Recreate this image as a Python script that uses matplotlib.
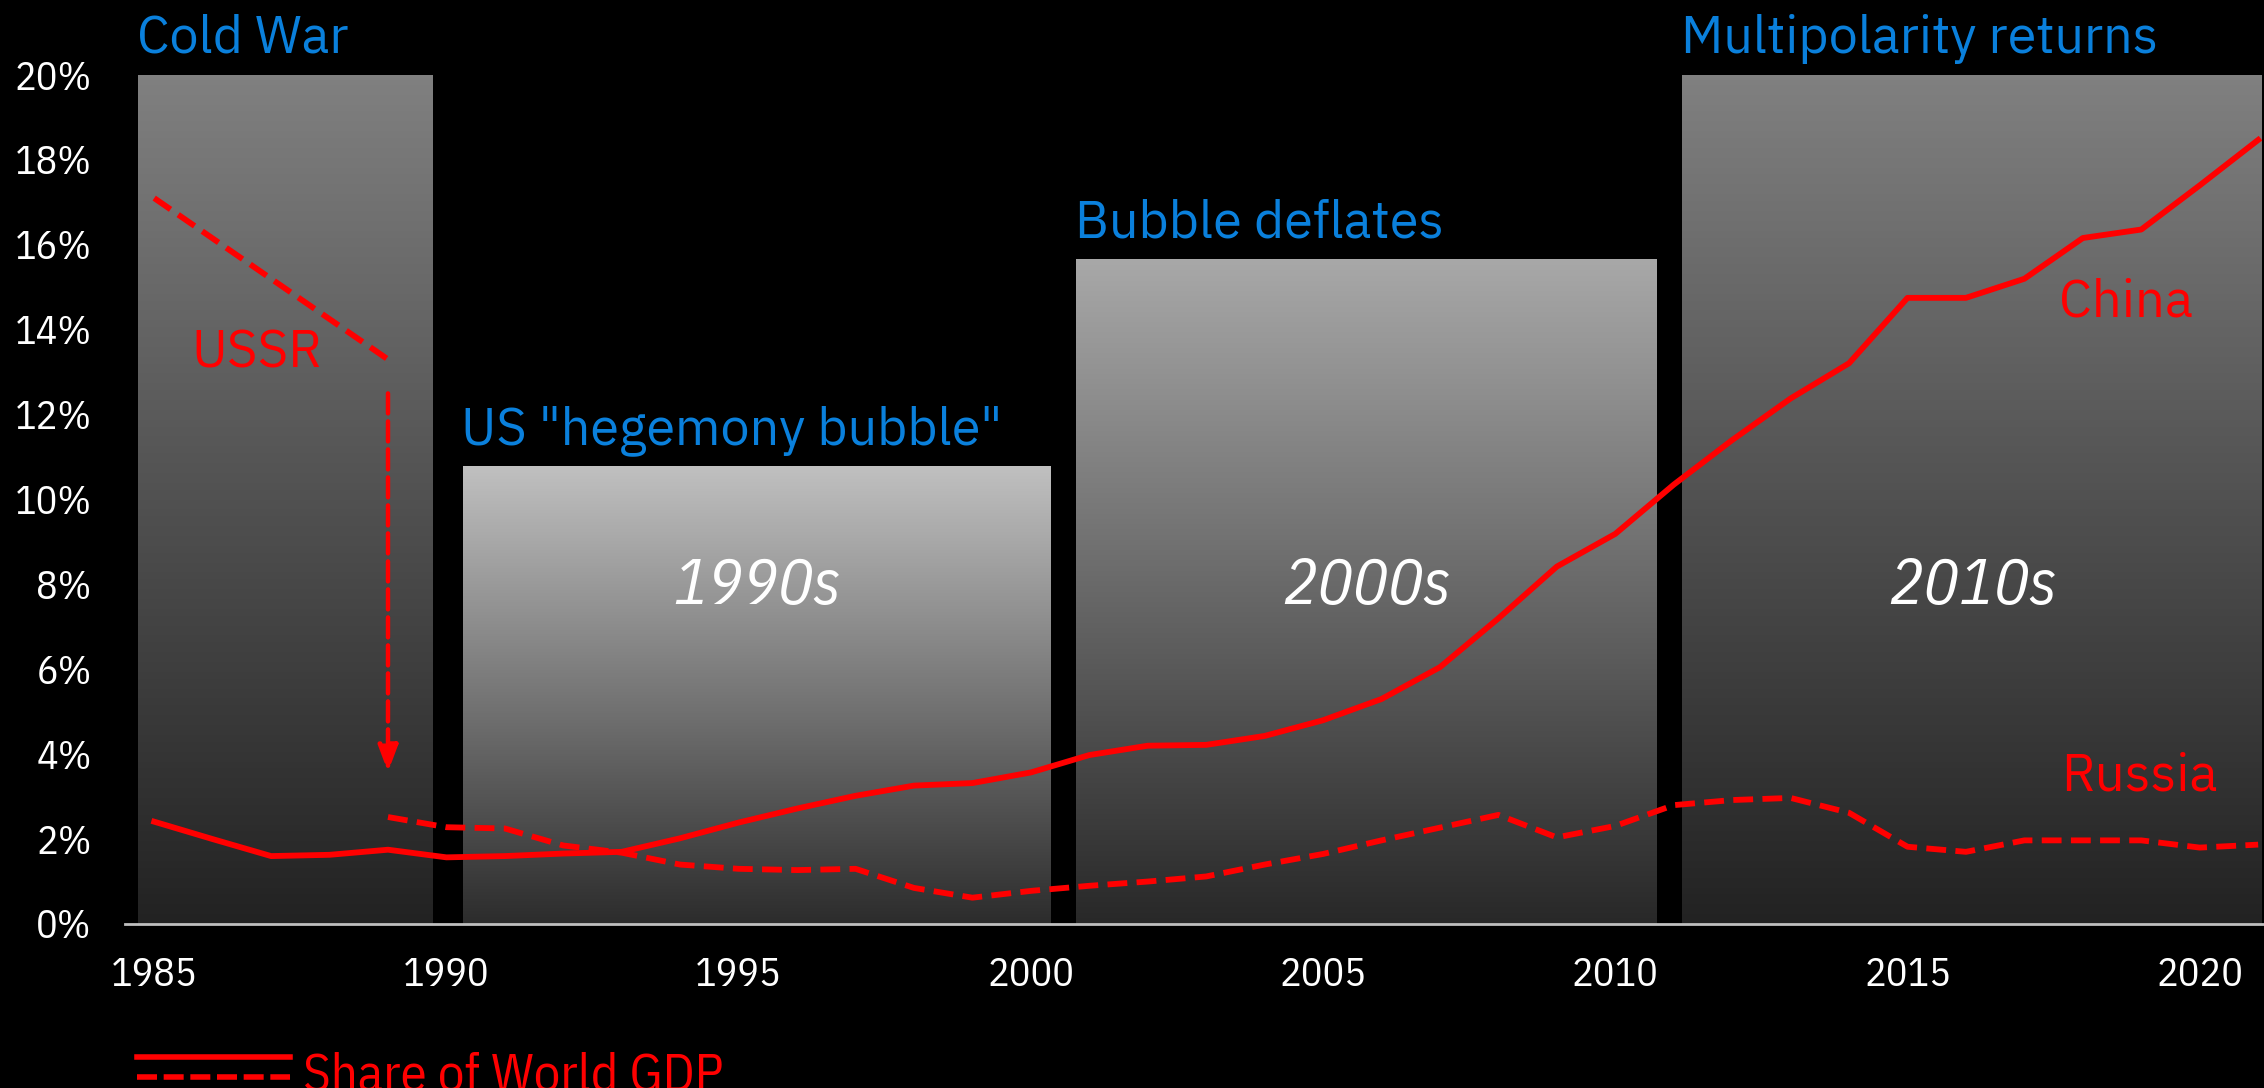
import numpy as np
import matplotlib.pyplot as plt
from matplotlib.colors import LinearSegmentedColormap
from matplotlib.lines import Line2D

# share of world GDP, %
years = np.arange(1985, 2022)
china = [2.41, 2.0, 1.6, 1.63, 1.75, 1.57, 1.6, 1.66, 1.7, 2.02,
         2.39, 2.72, 3.02, 3.26, 3.32, 3.57, 3.98, 4.2, 4.22, 4.43,
         4.8, 5.3, 6.05, 7.2, 8.42, 9.19, 10.35, 11.4, 12.38, 13.21,
         14.75, 14.75, 15.2, 16.16, 16.36, 17.4, 18.47]
ussr_years = np.arange(1985, 1990)
ussr = [17.1, 16.15, 15.2, 14.25, 13.3]
russia_years = np.arange(1989, 2022)
russia = [2.52, 2.28, 2.25, 1.85, 1.68, 1.4, 1.3, 1.27, 1.3, 0.85,
          0.62, 0.78, 0.9, 1.0, 1.12, 1.4, 1.65, 1.97, 2.27, 2.57,
          2.04, 2.31, 2.8, 2.92, 2.97, 2.62, 1.82, 1.7, 1.97, 1.97,
          1.97, 1.8, 1.87]

# eras shown as shaded blocks
era_names = ['Cold War', 'US "hegemony bubble"', 'Bubble deflates', 'Multipolarity returns']
era_start = [1984.73, 1990.28, 2000.78, 2011.15]
era_end = [1989.77, 2000.33, 2010.71, 2021.07]
era_top = [20, 10.78, 15.65, 20]
era_top_color = ['#808080', '#c0c0c0', '#a8a8a8', '#808080']
era_bottom_color = ['#222222', '#2c2c2c', '#282828', '#222222']
decade_labels = ['', '1990s', '2000s', '2010s']

yticks = np.arange(0, 21, 2)
xticks = np.arange(1985, 2021, 5)

RED = '#ff0000'
BLUE = '#0a80dc'
narrow = ['IBM Plex Sans Condensed', 'Sofia Sans Condensed', 'DejaVu Sans']
plex = ['IBM Plex Sans', 'Roboto', 'DejaVu Sans']

fig = plt.figure(figsize=(22.64, 10.88), dpi=100, facecolor='black')
ax = fig.add_axes([125 / 2264, 164 / 1088, 2139 / 2264, 849 / 1088])
ax.set_facecolor('black')

grad = np.linspace(0, 1, 256).reshape(-1, 1)
for i in range(len(era_names)):
    cmap = LinearSegmentedColormap.from_list('era', [era_bottom_color[i], era_top_color[i]])
    ax.imshow(grad, cmap=cmap, origin='lower', aspect='auto', zorder=1,
              extent=(era_start[i], era_end[i], 0, era_top[i]))
    ax.annotate(era_names[i], xy=(era_start[i], era_top[i]), xytext=(-1, 16),
                textcoords='offset points', ha='left', va='baseline',
                color=BLUE, fontsize=37.5, family=plex)
    if decade_labels[i]:
        ax.text((era_start[i] + era_end[i]) / 2, 7.95, decade_labels[i], ha='center', va='center',
                color='white', fontsize=47, style='italic', family=narrow, zorder=3)

ax.plot(years, china, color=RED, lw=4.2, solid_joinstyle='round', zorder=4)
ax.plot(ussr_years, ussr, color=RED, lw=4.2, dashes=(3.4, 1.6), zorder=4)
ax.plot(russia_years, russia, color=RED, lw=4.2, dashes=(3.4, 1.6), zorder=4)

# collapse of the USSR
ax.annotate('', xy=(russia_years[0], russia[0] + 1.06), xytext=(ussr_years[-1], ussr[-1] - 0.8),
            arrowprops=dict(arrowstyle='-|>,head_length=1.6,head_width=0.6', color=RED,
                            lw=3.2, linestyle=(0, (4.5, 1.8)), shrinkA=0, shrinkB=0), zorder=4)

ax.text(1985.64, 13.43, 'USSR', color=RED, fontsize=38, family=plex, va='center', zorder=5)
ax.text(2017.6, 14.63, 'China', color=RED, fontsize=38, family=plex, va='center', zorder=5)
ax.text(2017.63, 3.47, 'Russia', color=RED, fontsize=38, family=plex, va='center', zorder=5)

ax.set_xlim(1984.5, 2021.1)
ax.set_ylim(0, 20)
ax.set_xticks(xticks)
ax.set_xticklabels([str(y) for y in xticks], family=narrow)
ax.set_yticks(yticks)
ax.set_yticklabels([f'{v}%' for v in yticks], family=narrow)
ax.tick_params(length=0, colors='white', labelsize=29)
ax.tick_params(axis='x', pad=24)
ax.tick_params(axis='y', pad=24)
for side in ['top', 'right', 'left']:
    ax.spines[side].set_visible(False)
ax.spines['bottom'].set_color('#bfbfbf')
ax.spines['bottom'].set_linewidth(2)
ax.spines['bottom'].set_zorder(6)

# legend drawn by hand: solid and dashed samples share one label
fig.add_artist(Line2D([137 / 2264, 290 / 2264], [1 - 1057 / 1088] * 2, color=RED, lw=4))
fig.add_artist(Line2D([137 / 2264, 290 / 2264], [1 - 1077 / 1088] * 2, color=RED, lw=4,
                      dashes=(3.6, 1.2)))
fig.text(303 / 2264, -0.002, 'Share of World GDP', color=RED, fontsize=38, family=narrow,
         va='baseline')

fig.savefig('out.png', dpi=100, facecolor='black')
